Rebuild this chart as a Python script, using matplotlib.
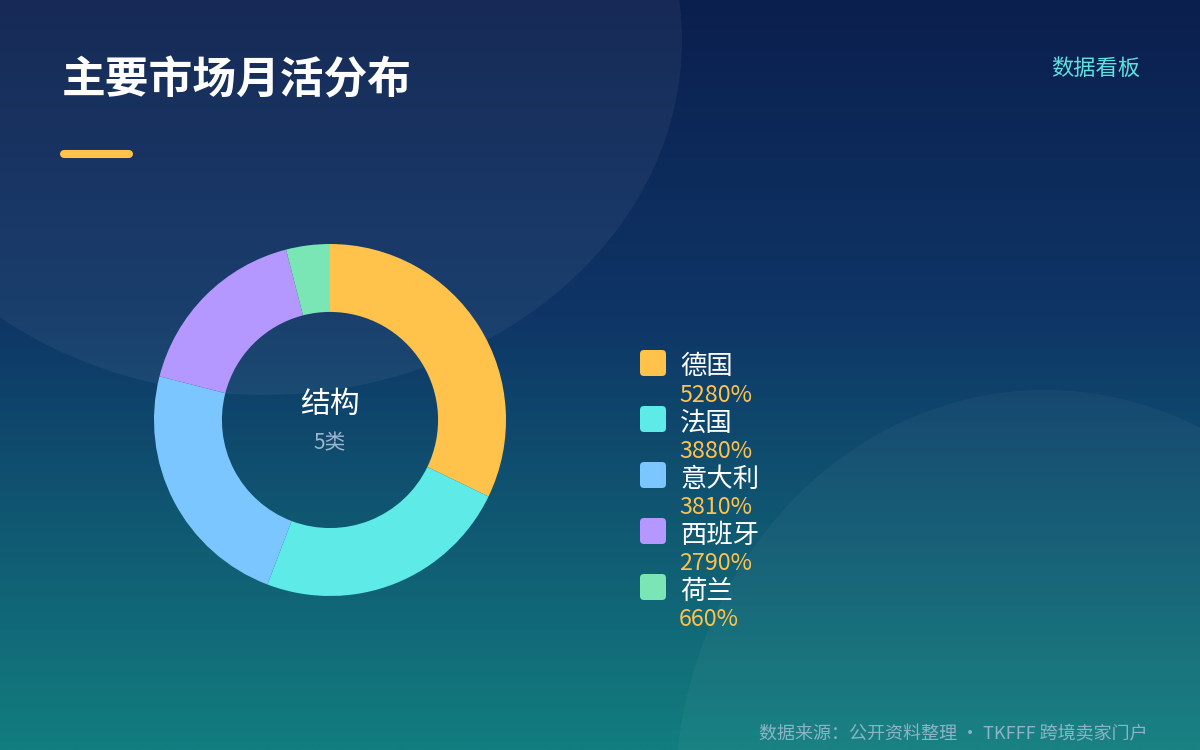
import numpy as np
import matplotlib
matplotlib.use('Agg')
import matplotlib.pyplot as plt
from matplotlib.colors import LinearSegmentedColormap
from matplotlib.patches import Ellipse, FancyBboxPatch

plt.rcParams['font.family'] = ['Noto Sans CJK SC', 'DejaVu Sans']

# ---------------- data ----------------
markets = ['德国', '法国', '意大利', '西班牙', '荷兰']
values = [5280, 3880, 3810, 2790, 660]
value_labels = ['5280%', '3880%', '3810%', '2790%', '660%']
colors = ['#FFC24B', '#5EEAE6', '#7CC6FF', '#B497FF', '#7AE6B6']

title = '主要市场月活分布'
tag = '数据看板'
center_title = '结构'
center_sub = '%d类' % len(markets)
footer = '数据来源：公开资料整理 · TKFFF 跨境卖家门户'

W, H = 1200, 750
fig = plt.figure(figsize=(12, 7.5), dpi=100)

# ---------------- background ----------------
bg = fig.add_axes([0, 0, 1, 1])
bg.set_xlim(0, W)
bg.set_ylim(H, 0)
bg.axis('off')
cmap = LinearSegmentedColormap.from_list(
    'bg', [(0, '#0b1f4e'), (0.42, '#0e3566'), (1, '#127e7f')])
grad = np.linspace(0, 1, 256).reshape(-1, 1)
bg.imshow(grad, cmap=cmap, aspect='auto', extent=[0, W, H, 0], zorder=0)
bg.add_patch(Ellipse((262, 40), 840, 710, facecolor='white', alpha=0.05,
                     edgecolor='none', zorder=1))
bg.add_patch(Ellipse((1045, 800), 740, 820, facecolor='white', alpha=0.035,
                     edgecolor='none', zorder=1))

# title block
bg.text(62, 80, title, color='white', fontsize=31.5, fontweight='bold',
        va='center', ha='left', zorder=3)
bg.plot([64, 129], [154, 154], color='#FFC24B', lw=5.8,
        solid_capstyle='round', zorder=3)
bg.text(1140, 68, tag, color='#5EE0E0', fontsize=16, va='center',
        ha='right', zorder=3)

# legend
for i, (name, lab, c) in enumerate(zip(markets, value_labels, colors)):
    y0 = 350 + i * 56
    bg.add_patch(FancyBboxPatch((640, y0), 26, 26,
                                boxstyle='round,pad=0,rounding_size=4',
                                facecolor=c, edgecolor='none', zorder=3))
    bg.text(680, y0 + 17, name, color='white', fontsize=19,
            va='center', ha='left', zorder=3)
    bg.text(679, y0 + 45, lab, color='#FFC24B', fontsize=16.8,
            va='center', ha='left', zorder=3)

bg.text(1148, 734, footer, color='#8DB4C6', fontsize=13,
        va='center', ha='right', zorder=3)

# ---------------- donut ----------------
cx, cy, r = 330, 420, 176
pie_ax = fig.add_axes([(cx - r) / W, (H - cy - r) / H, 2 * r / W, 2 * r / H])
pie_ax.patch.set_alpha(0)
pie_ax.pie(values, colors=colors, startangle=90, counterclock=False,
           radius=1, wedgeprops=dict(width=0.386, edgecolor='none'))
pie_ax.set_xlim(-1, 1)
pie_ax.set_ylim(-1, 1)
pie_ax.axis('off')
pie_ax.text(0, 0.09, center_title, color='white', fontsize=21.5,
            ha='center', va='center')
pie_ax.text(0, -0.13, center_sub, color='#9DB5CF', fontsize=15,
            ha='center', va='center')

fig.savefig('out.png', dpi=100)
